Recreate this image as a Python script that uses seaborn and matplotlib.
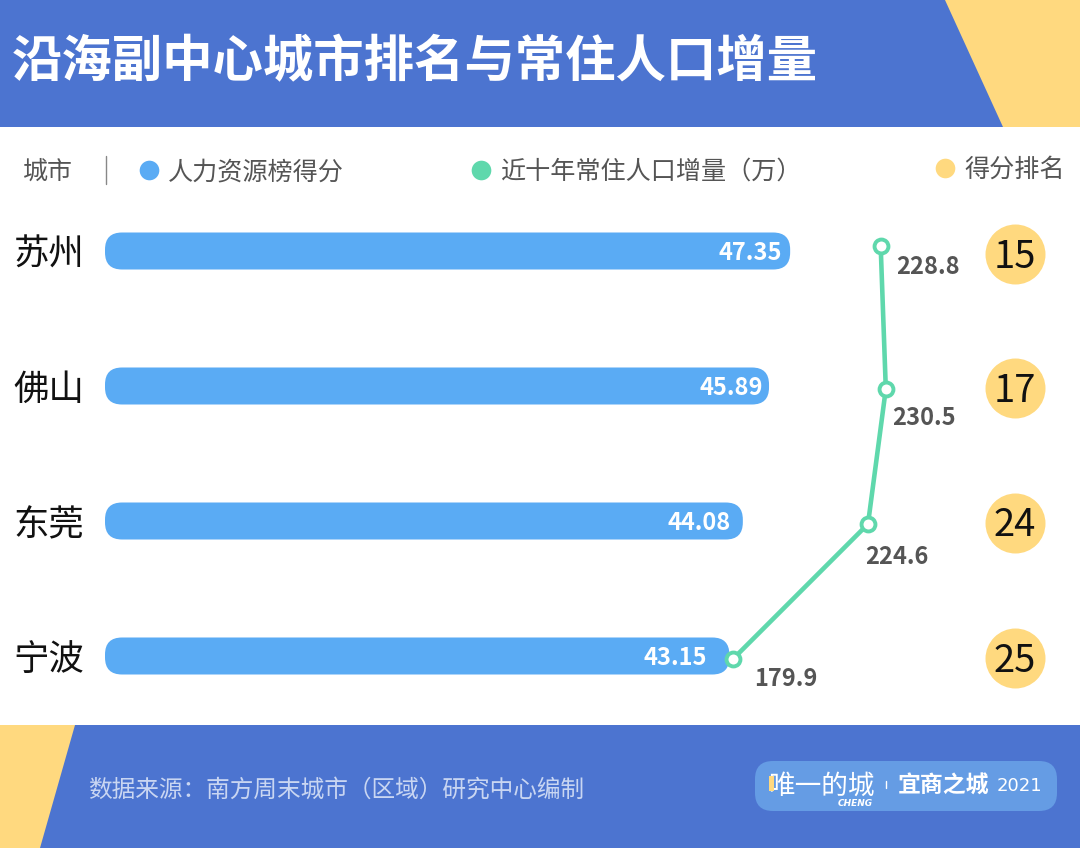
import matplotlib
matplotlib.use("Agg")
import matplotlib.pyplot as plt
import seaborn as sns
import pandas as pd
from matplotlib.patches import FancyBboxPatch, Polygon, Rectangle

cities = ["苏州", "佛山", "东莞", "宁波"]
scores = [47.35, 45.89, 44.08, 43.15]
population = [228.8, 230.5, 224.6, 179.9]
pop_labels = ["228.8", "230.5", "224.6", "179.9"]
ranks = [15, 17, 24, 25]

title = "沿海副中心城市排名与常住人口增量"
source = "数据来源：南方周末城市（区域）研究中心编制"
legend_city = "城市"
legend_score = "人力资源榜得分"
legend_pop = "近十年常住人口增量（万）"
legend_rank = "得分排名"

BLUE = "#4C74D0"; YELLOW = "#FFD97F"; BAR = "#5AABF4"; GREEN = "#5FD8AC"; GREY = "#555555"; LOGO = "#659CE4"

sns.set_theme(style="white")
CJK = ["Noto Sans CJK SC", "DejaVu Sans"]
plt.rcParams["font.family"] = CJK

W, H = 1080, 848
fig = plt.figure(figsize=(W / 100, H / 100), dpi=100, facecolor="white")

# pixel-coordinate background layer
bg = fig.add_axes([0, 0, 1, 1], zorder=0)
bg.set_xlim(0, W); bg.set_ylim(H, 0); bg.axis("off")
bg.add_patch(Rectangle((0, 0), W, 127, fc=BLUE, lw=0))
bg.add_patch(Polygon([(945, 0), (W, 0), (W, 127), (1003, 127)], fc=YELLOW, lw=0))
bg.add_patch(Rectangle((0, 725), W, 123, fc=BLUE, lw=0))
bg.add_patch(Polygon([(0, 725), (75, 725), (40, H), (0, H)], fc=YELLOW, lw=0))
bg.text(12, 63, title, color="white", fontsize=36.3, fontweight="bold", va="center", ha="left")
bg.text(88, 790, source, color="#C9D6F2", fontsize=17.05, va="center", ha="left")

# legend row
bg.text(23, 172, legend_city, color=GREY, fontsize=18, va="center", ha="left")
bg.plot([106, 106], [156, 184], color="#888888", lw=1)
bg.text(168, 172, legend_score, color=GREY, fontsize=18.1, va="center", ha="left")
bg.text(500, 172, legend_pop, color=GREY, fontsize=18.1, va="center", ha="left")
bg.text(964, 170, legend_rank, color=GREY, fontsize=18.1, va="center", ha="left")
for px, py, col in [(149, 170, BAR), (481, 170, GREEN), (945, 168, YELLOW)]:
    bg.scatter([px], [py], s=200, color=col, lw=0)

# logo
bg.add_patch(FancyBboxPatch((755, 761), 302, 50, boxstyle="round,pad=0,rounding_size=18", fc=LOGO, lw=0))
bg.text(768, 786, "唯一的城", color="white", fontsize=19.2, va="center", ha="left")
bg.add_patch(Rectangle((769, 776), 5, 15, fc=YELLOW, lw=0, zorder=5))
bg.text(855, 803, "CHENG", color="white", fontsize=6.5, fontweight="bold", style="italic", va="center", ha="center", family="DejaVu Sans")
bg.plot([886, 886], [781, 788], color="white", lw=1)
bg.text(898, 786, "宜商之城", color="white", fontsize=16.5, fontweight="bold", va="center", ha="left")
bg.text(997, 786, "2021", color="white", fontsize=13, va="center", ha="left", family="DejaVu Sans")

# bars on a full-figure axes mapped onto the picture
PX_PER_SCORE = 14.47; BAR_X0 = 105; ROW0 = 251; ROW_STEP = 135
df = pd.DataFrame({"city": cities, "score": scores, "pop": population, "rank": ranks})
ax = fig.add_axes([0, 0, 1, 1], zorder=1, facecolor="none")
sns.barplot(data=df, x="score", y="city", orient="y", color=BAR, saturation=1, width=37 / ROW_STEP, ax=ax)
ax.set_xlim(-BAR_X0 / PX_PER_SCORE, (W - BAR_X0) / PX_PER_SCORE)
ax.set_ylim((H - ROW0) / ROW_STEP, -ROW0 / ROW_STEP)
ax.axis("off")

label_gaps_px = [8, 6, 12, 22]
for cont in ax.containers:
    labels = ax.bar_label(cont, fmt="%.2f", label_type="edge", padding=0,
                          color="white", fontsize=17, fontweight="bold")
    for t, gap in zip(labels, label_gaps_px):
        t.set_ha("right")
        t.set_va("center")
        t.set_zorder(4)
        t.xyann = (-gap * 0.72, -1.5)
for p in list(ax.patches):
    x, y, w, h = p.get_x(), p.get_y(), p.get_width(), p.get_height()
    p.remove()
    ax.add_patch(FancyBboxPatch((x, y), w, h, boxstyle=f"round,pad=0,rounding_size={17 / PX_PER_SCORE}",
                                mutation_aspect=PX_PER_SCORE / ROW_STEP, fc=BAR, lw=0, zorder=2))

for i, c in enumerate(cities):
    ax.text((49 - BAR_X0) / PX_PER_SCORE, i + 4 / ROW_STEP, c, color="#111111", fontsize=25.5, va="center", ha="center")

# population line, on its own x scale
PX_PER_POP = 3.02; POP_X0 = 733; POP_REF = 179.9
lx = ax.twiny()
lx.set_zorder(2); lx.patch.set_visible(False)
line_df = df.assign(row=[i + d for i, d in enumerate([-5 / ROW_STEP, 3 / ROW_STEP, 3 / ROW_STEP, 3 / ROW_STEP])])
sns.lineplot(data=line_df, x="pop", y="row", orient="y", sort=False, estimator=None, color=GREEN, lw=3.3,
             marker="o", markersize=10, markerfacecolor="white", markeredgecolor=GREEN, markeredgewidth=2.8, ax=lx)
lx.set_xlim(POP_REF - POP_X0 / PX_PER_POP, POP_REF + (W - POP_X0) / PX_PER_POP)
lx.set_ylim(ax.get_ylim())
lx.axis("off")
offsets_px = [(47, 21), (38, 29), (29, 33), (53, 20)]
for xv, yv, lab, (dx, dy) in zip(line_df["pop"], line_df["row"], pop_labels, offsets_px):
    lx.annotate(lab, (xv, yv), xytext=(dx * 0.72, -dy * 0.72), textcoords="offset points", ha="center", va="center",
                color=GREY, fontsize=17, fontweight="bold")

# rank circles
rx = fig.add_axes([0, 0, 1, 1], zorder=3, facecolor="none")
rank_df = df.assign(row=[254, 388, 523, 658], col=1015)
sns.scatterplot(data=rank_df, x="col", y="row", s=1866, color=YELLOW, linewidth=0, ax=rx, legend=False)
rx.set_xlim(0, W); rx.set_ylim(H, 0); rx.axis("off")
for _, r in rank_df.iterrows():
    rx.text(r["col"], r["row"] + 3, str(r["rank"]), color="#111111", fontsize=27.5, ha="center", va="center")

fig.savefig("out.png", dpi=100, facecolor="white")
